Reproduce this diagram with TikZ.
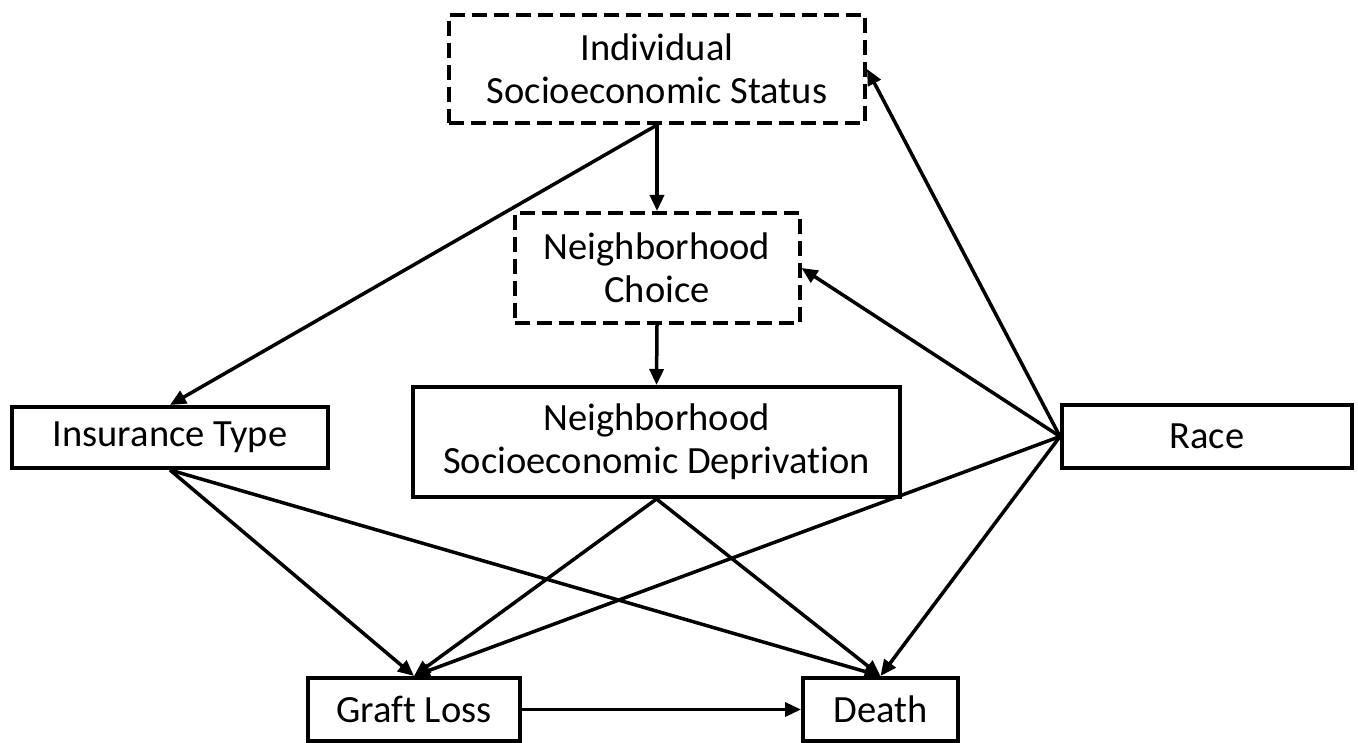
\documentclass[tikz,border=0pt]{standalone}
\usepackage{fontspec}
\setmainfont{Carlito}[Ligatures=NoCommon]
\usetikzlibrary{arrows.meta}
\begin{document}
\begin{tikzpicture}[x=1pt,y=-1pt,
  box/.style={draw=black, line width=4pt, fill=white, inner sep=0pt, align=center,
    font=\fontsize{38.5}{43}\selectfont},
  dbox/.style={box, dash pattern=on 15pt off 7pt},
  arr/.style={line width=3.5pt, -{Triangle[length=16pt,width=14pt]}}]
\useasboundingbox (0,0) rectangle (1358,743);
\node[dbox, minimum width=416pt, minimum height=108pt] (ises) at (657,69) {Individual\\Socioeconomic Status};
\node[dbox, minimum width=285pt, minimum height=110pt] (nc) at (657,268) {Neighborhood\\Choice};
\node[box, minimum width=316pt, minimum height=61pt] (ins) at (170,437.5) {Insurance Type};
\node[box, minimum width=487pt, minimum height=110pt] (nsd) at (656.5,442) {Neighborhood\\Socioeconomic Deprivation};
\node[box, minimum width=290pt, minimum height=63pt] (race) at (1207,436.5) {Race};
\node[box, minimum width=212pt, minimum height=63pt] (gl) at (414,709.5) {Graft Loss};
\node[box, minimum width=155pt, minimum height=63pt] (death) at (880.5,709.5) {Death};
\draw[arr] (ises.south) -- (nc.north);
\draw[arr] (ises.south) -- (ins.north);
\draw[arr] (nc.south) -- (nsd.north);
\draw[arr] (race.west) -- (ises.east);
\draw[arr] (race.west) -- (nc.east);
\draw[arr] (race.west) -- (gl.north);
\draw[arr] (race.west) -- (death.north);
\draw[arr] (ins.south) -- (gl.north);
\draw[arr] (ins.south) -- (death.north);
\draw[arr] (nsd.south) -- (gl.north);
\draw[arr] (nsd.south) -- (death.north);
\draw[arr] (gl.east) -- (death.west);
\end{tikzpicture}
\end{document}
